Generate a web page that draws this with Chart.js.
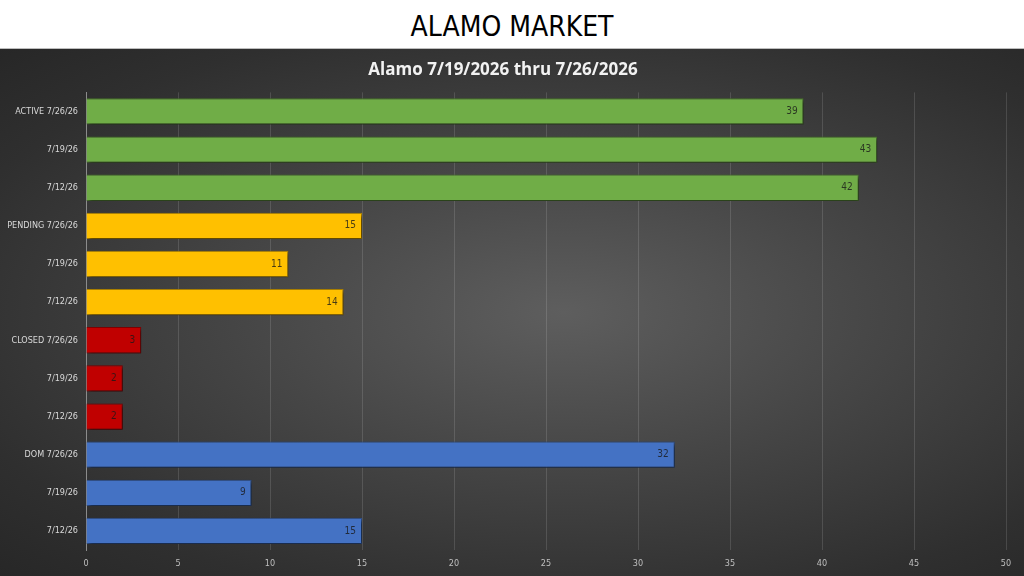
<!DOCTYPE html>
<html>
<head>
<meta charset="utf-8">
<script src="https://cdn.jsdelivr.net/npm/chart.js@4/dist/chart.umd.min.js"></script>
<style>
    html, body { margin: 0; padding: 0; background: #fff; width: 1024px; height: 576px; overflow: hidden; }
    #header {
        height: 48px; line-height: 54px; text-align: center;
        font-family: "Liberation Sans Narrow", "DejaVu Sans Condensed", sans-serif;
        font-size: 28px; color: #000; border-bottom: 1px solid #bdbdbd;
    }
    #panel {
        position: relative; width: 1024px; height: 527px;
        background: radial-gradient(ellipse at 55% 50%, #5e5e5e 0%, #464646 40%, #2f2f2f 80%, #272727 100%);
    }
</style>
</head>
<body>
<div id="header">ALAMO MARKET</div>
<div id="panel"><canvas id="chart" width="1024" height="527"></canvas></div>
<script>
// 1. Data
const categories = [
    'ACTIVE 7/26/26', '7/19/26', '7/12/26',
    'PENDING 7/26/26', '7/19/26', '7/12/26',
    'CLOSED 7/26/26', '7/19/26', '7/12/26',
    'DOM 7/26/26', '7/19/26', '7/12/26'
];
const values = [39, 43, 42, 15, 11, 14, 3, 2, 2, 32, 9, 15];
const groupOf = [0, 0, 0, 1, 1, 1, 2, 2, 2, 3, 3, 3];
const xTicks = [0, 5, 10, 15, 20, 25, 30, 35, 40, 45, 50];

// 2. Styles
const groupColors = ['#70ad47', '#ffc000', '#c00000', '#4472c4'];
const groupBorders = ['#4e7a31', '#b58800', '#8a0000', '#2f528f'];
const narrowFont = '"Liberation Sans Narrow", "DejaVu Sans Condensed", sans-serif';

// 3. Plugins
const barShadow = {
    id: 'barShadow',
    beforeDatasetsDraw(chart) {
        const ctx = chart.ctx;
        ctx.save();
        ctx.shadowColor = 'rgba(0,0,0,0.6)';
        ctx.shadowBlur = 4;
        ctx.shadowOffsetX = 2;
        ctx.shadowOffsetY = 2;
    },
    afterDatasetsDraw(chart) {
        chart.ctx.restore();
    }
};

const valueLabels = {
    id: 'valueLabels',
    afterDraw(chart) {
        const ctx = chart.ctx;
        const meta = chart.getDatasetMeta(0);
        ctx.save();
        ctx.font = '10px ' + narrowFont;
        ctx.fillStyle = 'rgba(25,25,25,0.8)';
        ctx.textAlign = 'right';
        ctx.textBaseline = 'middle';
        meta.data.forEach((bar, i) => {
            ctx.fillText(String(values[i]), bar.x - 6, bar.y);
        });
        ctx.restore();
    }
};

// 4. Chart
new Chart(document.getElementById('chart').getContext('2d'), {
    type: 'bar',
    data: {
        labels: categories,
        datasets: [{
            data: values,
            backgroundColor: groupOf.map(g => groupColors[g]),
            borderColor: groupOf.map(g => groupBorders[g]),
            borderWidth: 1,
            borderSkipped: 'left',
            barPercentage: 0.69,
            categoryPercentage: 1
        }]
    },
    options: {
        indexAxis: 'y',
        responsive: false,
        animation: false,
        layout: { padding: { left: 0, right: 18, top: 0, bottom: 0 } },
        plugins: {
            legend: { display: false },
            tooltip: { enabled: false },
            title: {
                display: true,
                text: 'Alamo 7/19/2026 thru 7/26/2026',
                color: '#f2f2f2',
                font: { family: '"Open Sans", "DejaVu Sans", sans-serif', size: 17, weight: 'bold' },
                padding: { top: 11, bottom: 12 }
            }
        },
        scales: {
            x: {
                min: 0,
                max: 50,
                afterBuildTicks(scale) { scale.ticks = xTicks.map(v => ({ value: v })); },
                grid: { color: 'rgba(255,255,255,0.13)', lineWidth: 1, tickLength: 0, drawTicks: false },
                border: { display: false },
                ticks: {
                    color: '#bfbfbf',
                    padding: 8,
                    font: { family: narrowFont, size: 9 }
                },
                afterFit(scale) { scale.height = 26; }
            },
            y: {
                grid: { display: false, drawTicks: false },
                border: { display: true, color: '#8c8c8c', width: 1 },
                ticks: {
                    color: '#d9d9d9',
                    padding: 8,
                    autoSkip: false,
                    font: { family: narrowFont, size: 9 }
                },
                afterFit(scale) { scale.width = 86; }
            }
        }
    },
    plugins: [barShadow, valueLabels]
});
</script>
</body>
</html>
